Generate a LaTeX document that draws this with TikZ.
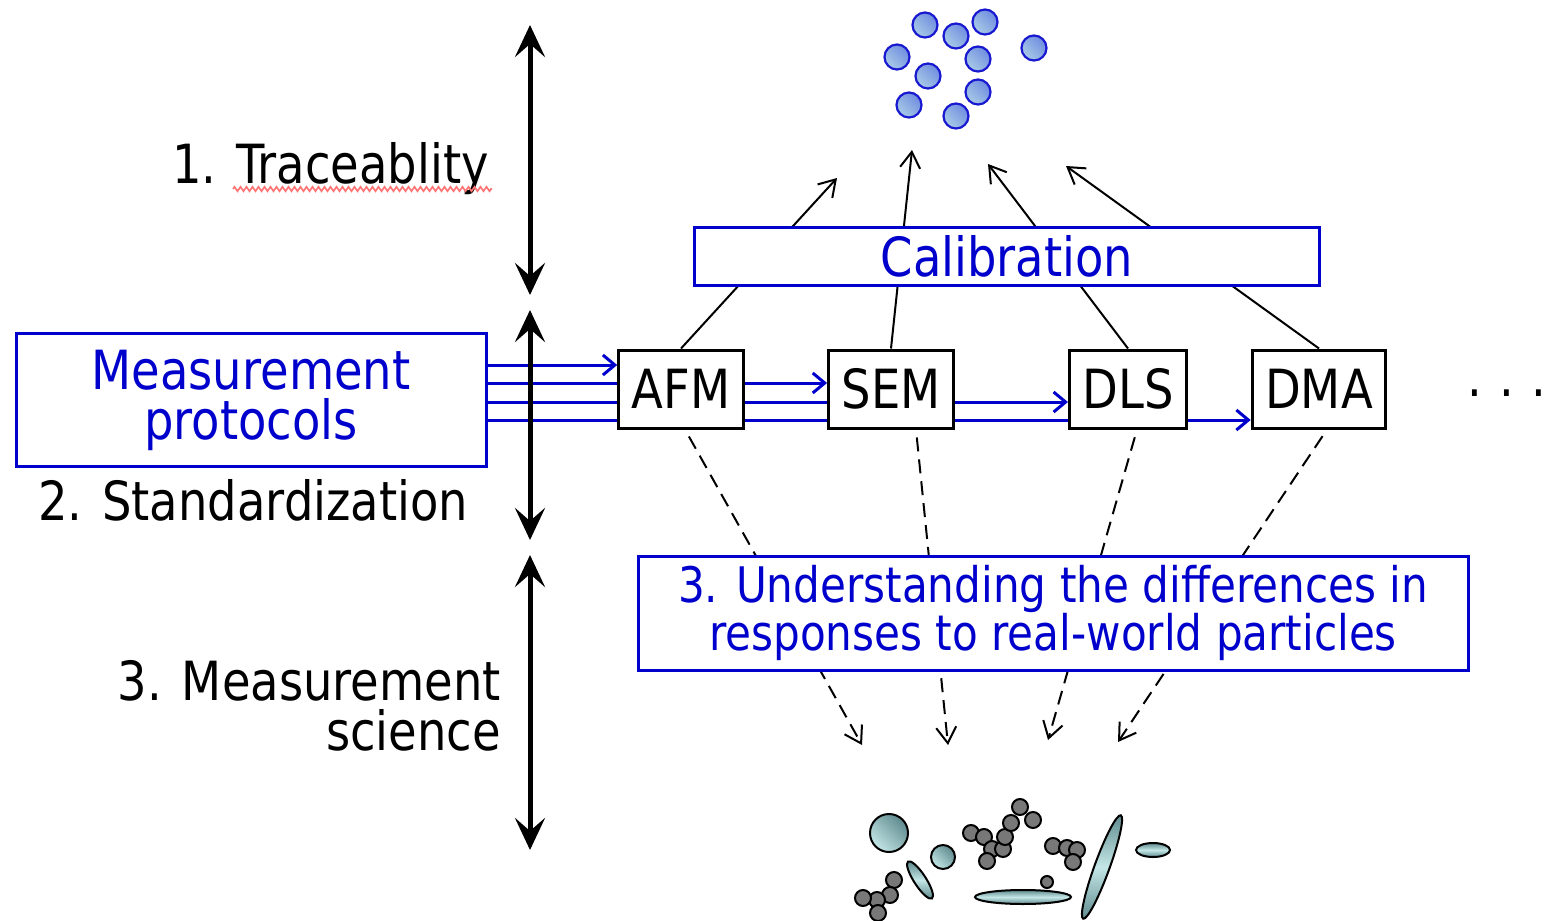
\documentclass[tikz,border=0pt]{standalone}
\usepackage{fontspec}
\setmainfont{DejaVu Sans}[FakeStretch=0.86]
\usetikzlibrary{arrows.meta,backgrounds,decorations.pathmorphing}
\definecolor{proto}{HTML}{0000CC}
\definecolor{beadrim}{HTML}{1818D0}
\definecolor{beaddark}{HTML}{6F8CE0}
\definecolor{beadlight}{HTML}{A9CBE6}
\definecolor{clumpgray}{HTML}{787878}
\definecolor{roddark}{HTML}{5E8A8E}
\definecolor{rodlight}{HTML}{C4E6E6}

\begin{document}
\begin{tikzpicture}[x=1pt,y=-1pt,
    bigfont/.style={font=\fontsize{54}{50}\selectfont},
    sidetext/.style={bigfont,inner sep=0pt},
    bluebox/.style={draw=proto,line width=3pt,fill=white,text=proto,align=center,inner sep=0pt},
    instr/.style={draw,line width=3pt,fill=white,bigfont,minimum height=78pt,inner xsep=13pt,inner ysep=0pt},
    tier/.style={line width=5pt,{Stealth[length=32pt,width=30pt,inset=13pt]}-{Stealth[length=32pt,width=30pt,inset=13pt]}},
    feed/.style={proto,line width=3pt,-{Straight Barb[length=12pt,width=20pt]}},
    calib/.style={line width=2pt,-{Straight Barb[length=16pt,width=20pt]}},
    probe/.style={line width=2pt,dash pattern=on 14pt off 8pt,shorten <=8pt,-{Straight Barb[length=16pt,width=20pt]}},
    bead/.style={draw=beadrim,line width=2.2pt,left color=beaddark,right color=beadlight,shading angle=-45},
    clump/.style={draw=black,line width=2pt,fill=clumpgray},
    ball/.style={draw=black,line width=2pt,left color=roddark,right color=rodlight,shading angle=-45},
    rod/.style={draw=black,line width=2pt,top color=roddark,bottom color=roddark,middle color=rodlight}
  ]
  \useasboundingbox (0,0) rectangle (1548,921);

  % the three levels
  \coordinate (t1) at (530,25);
  \coordinate (b1) at (530,295);
  \coordinate (t2) at (530,310);
  \coordinate (b2) at (530,540);
  \coordinate (t3) at (530,555);
  \coordinate (b3) at (530,850);
  \draw[tier] (t1) -- (b1);
  \draw[tier] (t2) -- (b2);
  \draw[tier] (t3) -- (b3);

  \node[sidetext,anchor=base east] (trace) at (489,183) {1. Traceablity};
  \draw[red!55,line width=1.6pt,decorate,decoration={zigzag,amplitude=2.2pt,segment length=6pt}]
    (233,189) -- (492,189);

  \node[bluebox,bigfont,minimum width=470pt,minimum height=133pt] (proto) at (251,400) {Measurement\\protocols};
  \node[sidetext,anchor=base west] (std) at (38,520) {2. Standardization};
  \node[sidetext,anchor=east,align=right] (sci) at (501,706) {3. Measurement\\science};

  % instruments
  \path
  (681,389) node[instr](afm) {AFM}
  (891,389) node[instr](sem) {SEM}
  (1128,389) node[instr](dls) {DLS}
  (1319,389) node[instr](dma) {DMA}
  ;
  \node[sidetext,anchor=base] (more) at (1507,396) {.\hspace{17pt}.\hspace{17pt}.};

  % protocols go to every instrument
  \begin{pgfonlayer}{background}
    \coordinate (f1) at ([yshift=35pt]proto.east);
    \coordinate (f2) at ([yshift=17pt]proto.east);
    \coordinate (f3) at ([yshift=-2pt]proto.east);
    \coordinate (f4) at ([yshift=-20pt]proto.east);
    \draw[feed] (f1) -- (f1 -| afm.west);
    \draw[feed] (f2) -- (f2 -| sem.west);
    \draw[feed] (f3) -- (f3 -| dls.west);
    \draw[feed] (f4) -- (f4 -| dma.west);
  \end{pgfonlayer}

  % reference spheres
  \foreach \x/\y in {925/25,956/36,985/22,897/57,1034/48,978/59,928/76,978/92,909/105,956/116}
    \draw[bead] (\x,\y) circle[radius=12.5];

  \coordinate (c1) at (837,178);
  \coordinate (c2) at (912,150);
  \coordinate (c3) at (988,164);
  \coordinate (c4) at (1066,166);
  \draw[calib] (afm.north) -- (c1);
  \draw[calib] (sem.north) -- (c2);
  \draw[calib] (dls.north) -- (c3);
  \draw[calib] (dma.north) -- (c4);
  \node[bluebox,bigfont,minimum width=625pt,minimum height=58pt] (cal) at (1007,256) {Calibration};

  \coordinate (r1) at (862,745);
  \coordinate (r2) at (948,745);
  \coordinate (r3) at (1048,740);
  \coordinate (r4) at (1118,742);
  \draw[probe] ([xshift=4pt]afm.south) -- (r1);
  \draw[probe] ([xshift=25pt]sem.south) -- (r2);
  \draw[probe] ([xshift=9pt]dls.south) -- (r3);
  \draw[probe] ([xshift=8pt]dma.south) -- (r4);
  \node[bluebox,font=\fontsize{49}{48}\selectfont,minimum width=830pt,minimum height=114pt] (diff) at (1053,613)
    {3. Understanding the differences in\\responses to real-world particles};

  % real-world particles
  \foreach \x/\y in {894/880,890/895,877/900,863/898,878/913}
    \draw[clump] (\x,\y) circle[radius=8];
  \foreach \x/\y in {971/833,984/837,992/849,987/861,1003/849,1005/837,1011/823,1020/807,1033/820}
    \draw[clump] (\x,\y) circle[radius=8];
  \foreach \x/\y in {1053/846,1067/848,1077/850,1073/862}
    \draw[clump] (\x,\y) circle[radius=8];
  \draw[ball] (889,833) circle[radius=19];
  \draw[ball] (943,857) circle[radius=12];
  \draw[rod,rotate around={-57:(920,880)}] (920,880) ellipse[x radius=22,y radius=6];
  \draw[clump] (1047,882) circle[radius=6];
  \draw[rod] (1023,897) ellipse[x radius=48,y radius=7];
  \draw[rod,rotate around={70:(1102,867)}] (1102,867) ellipse[x radius=55,y radius=7.5];
  \draw[rod] (1153,850) ellipse[x radius=17,y radius=7];
\end{tikzpicture}
\end{document}
